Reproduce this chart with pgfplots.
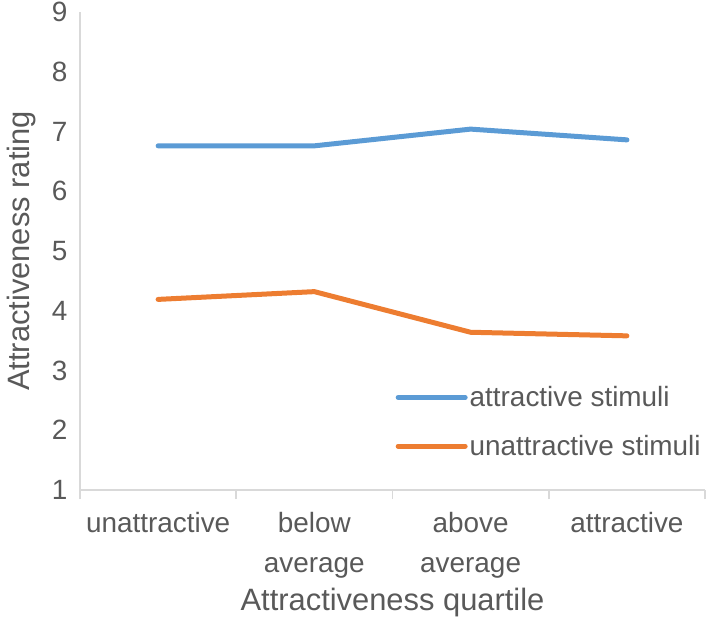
\documentclass[border=0pt]{standalone}
\usepackage{pgfplots}
\pgfplotsset{compat=1.18}
\usepackage{fontspec}
\setmainfont{Liberation Sans}
\definecolor{blueS}{HTML}{5B9BD5}
\definecolor{orangeS}{HTML}{ED7D31}
\definecolor{axgray}{HTML}{D9D9D9}
\definecolor{txt}{HTML}{595959}
\begin{document}
\begin{tikzpicture}
\begin{axis}[
 scale only axis, width=625bp, height=478bp,
 at={(0,0)}, anchor=south west,
 xmin=-0.5, xmax=3.5, ymin=1, ymax=9,
 axis x line*=bottom, axis y line*=left,
 axis line style={axgray, line width=1.8bp, -},
 xtick={0,1,2,3},
 xticklabels={unattractive, {below\\average}, {above\\average}, attractive},
 xticklabel style={align=center, font=\fontsize{28}{40}\selectfont, text=txt, yshift=-19bp},
 minor xtick={-0.5,0.5,1.5,2.5,3.5},
 major tick length=0pt, minor tick length=9bp,
 tick align=outside,
 every tick/.style={axgray, line width=1.8bp},
 ytick={1,2,3,4,5,6,7,8,9},
 yticklabel style={font=\fontsize{28}{32}\selectfont, text=txt, xshift=-9bp},
 /pgf/number format/assume math mode=true,
 xlabel={Attractiveness quartile}, ylabel={Attractiveness rating},
 label style={font=\fontsize{31}{36}\selectfont, text=txt},
 xlabel style={yshift=-3bp},
 ylabel style={yshift=9bp},
 legend style={at={(0.5,0.225)}, anchor=north west, draw=none, fill=none,
   font=\fontsize{28}{32}\selectfont, text=txt, row sep=23bp},
 legend cell align=left,
 legend image code/.code={\draw[#1, line cap=round] (0bp,0bp) -- (67bp,0bp);},
]
\addplot[blueS, line width=5bp, line cap=round, line join=round] coordinates {(0,6.76) (1,6.76) (2,7.04) (3,6.86)};
\addlegendentry{attractive stimuli}
\addplot[orangeS, line width=5bp, line cap=round, line join=round] coordinates {(0,4.19) (1,4.32) (2,3.64) (3,3.58)};
\addlegendentry{unattractive stimuli}
\end{axis}
\pgfresetboundingbox
\path (-80bp,-130bp) rectangle (629bp,490bp);
\end{tikzpicture}
\end{document}
